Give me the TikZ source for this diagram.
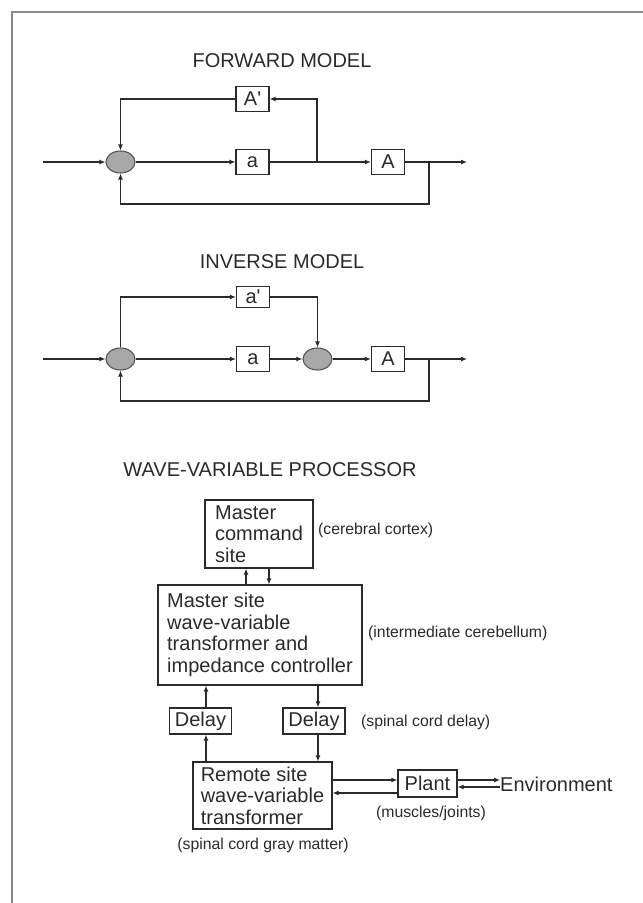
\documentclass[tikz,border=0pt]{standalone}
\usepackage{fontspec}
\setmainfont{Liberation Sans}
\usetikzlibrary{arrows.meta,shapes.geometric,calc}
\definecolor{ink}{HTML}{2A2A2A}
\definecolor{sumfill}{HTML}{A8A8A8}
\definecolor{framec}{HTML}{8A8A8A}
\begin{document}
\begin{tikzpicture}[x=1pt,y=-1pt,
  every node/.style={text=ink},
  box/.style={draw=ink,line width=1.2pt,inner sep=0pt,minimum width=33pt,minimum height=25pt,font=\fontsize{20}{21.5}\selectfont},
  mbox/.style={draw=ink,line width=1.2pt,inner sep=0pt,align=left,font=\fontsize{20}{21.5}\selectfont},
  sumnode/.style={ellipse,draw=ink!80,fill=sumfill,line width=1.1pt,minimum width=29pt,minimum height=22pt,inner sep=0pt},
  arr/.style={draw=ink,line width=1.1pt,-{Latex[length=6pt,width=5pt]}},
  ttl/.style={font=\fontsize{20}{24}\selectfont,inner sep=0pt},
  lbl/.style={font=\fontsize{15.8}{18}\selectfont,inner sep=0pt}]
\useasboundingbox (0,0) rectangle (643,903);
\draw[framec,line width=1.2pt] (12,903) |- (643,12);

% ---------- FORWARD MODEL ----------
\node[ttl] (t1) at (282,61) {FORWARD MODEL};
\node[sumnode] (f1) at (120.5,162) {};
\node[box] (fa) at (252.5,162) {a};
\node[box] (fAp) at (252.5,99) {A\textquotesingle};
\node[box] (fA) at (388,162) {A};
\coordinate (fin) at (43,162);
\coordinate (fout) at (467,162);
\coordinate (fb1) at (317,162);
\coordinate (fb2) at (429,162);
\coordinate (fbot) at (429,204);
\draw[arr] (fin) -- (f1);
\draw[arr] (f1) -- (fa);
\draw[arr] (fa) -- (fA);
\draw[arr] (fA) -- (fout);
\draw[arr] (fb1) |- (fAp);
\draw[arr] (fAp) -| (f1);
\draw[arr] (fb2) -- (fbot) -| (f1);

% ---------- INVERSE MODEL ----------
\node[ttl] (t2) at (282,262) {INVERSE MODEL};
\node[sumnode] (i1) at (120.5,359) {};
\node[box] (ia) at (253,359) {a};
\node[box,minimum height=21pt] (iap) at (253,297) {a\textquotesingle};
\node[sumnode] (i2) at (317.5,359) {};
\node[box] (iA) at (388,359) {A};
\coordinate (iin) at (43,359);
\coordinate (iout) at (467,359);
\coordinate (ib) at (429,359);
\coordinate (ibot) at (429,401);
\draw[arr] (iin) -- (i1);
\draw[arr] (i1) -- (ia);
\draw[arr] (ia) -- (i2);
\draw[arr] (i2) -- (iA);
\draw[arr] (iA) -- (iout);
\draw[arr] (i1) |- (iap);
\draw[arr] (iap) -| (i2);
\draw[arr] (ib) -- (ibot) -| (i1);

% ---------- WAVE-VARIABLE PROCESSOR ----------
\node[ttl] (t3) at (270,470) {WAVE-VARIABLE PROCESSOR};
\node[mbox,minimum width=108pt,minimum height=68pt] (mc) at (259,534) {Master\\command\\site};
\node[mbox,minimum width=204pt,minimum height=100pt] (ms) at (260,635) {Master site\\wave-variable\\transformer and\\impedance controller};
\node[box,minimum width=62.5pt,minimum height=26pt] (d1) at (200.5,721) {Delay};
\node[box,minimum width=62pt,minimum height=26pt] (d2) at (314,721) {Delay};
\node[mbox,minimum width=139pt,minimum height=67pt] (rm) at (262.5,795.5) {Remote site\\wave-variable\\transformer};
\node[box,minimum width=59pt,minimum height=27pt] (pl) at (427.5,783.5) {Plant};
\node[anchor=west,inner sep=0pt,font=\fontsize{20}{24}\selectfont] (env) at (500,784) {Environment};

\node[lbl,anchor=west] (lcc) at (318,530) {(cerebral cortex)};
\node[lbl,anchor=west] (lic) at (368,633) {(intermediate cerebellum)};
\node[lbl,anchor=west] (lsd) at (361,722) {(spinal cord delay)};
\node[lbl] (lmj) at (431,813) {(muscles/joints)};
\node[lbl] (lsg) at (263,845) {(spinal cord gray matter)};

\coordinate (xu) at (246,0);
\coordinate (xd) at (269,0);
\coordinate (xl) at (206,0);
\coordinate (xr) at (318,0);
\coordinate (y1) at (0,780);
\coordinate (y2) at (0,793);
\coordinate (y3) at (0,787);
\draw[arr] (ms.north -| xu) -- (mc.south -| xu);
\draw[arr] (mc.south -| xd) -- (ms.north -| xd);
\draw[arr] (rm.north -| xl) -- (d1.south -| xl);
\draw[arr] (d1.north -| xl) -- (ms.south -| xl);
\draw[arr] (ms.south -| xr) -- (d2.north -| xr);
\draw[arr] (d2.south -| xr) -- (rm.north -| xr);
\draw[arr] (rm.east |- y1) -- (pl.west |- y1);
\draw[arr] (pl.west |- y2) -- (rm.east |- y2);
\draw[arr] (pl.east |- y1) -- (env.west |- y1);
\draw[arr] (env.west |- y3) -- (pl.east |- y3);
\end{tikzpicture}
\end{document}
